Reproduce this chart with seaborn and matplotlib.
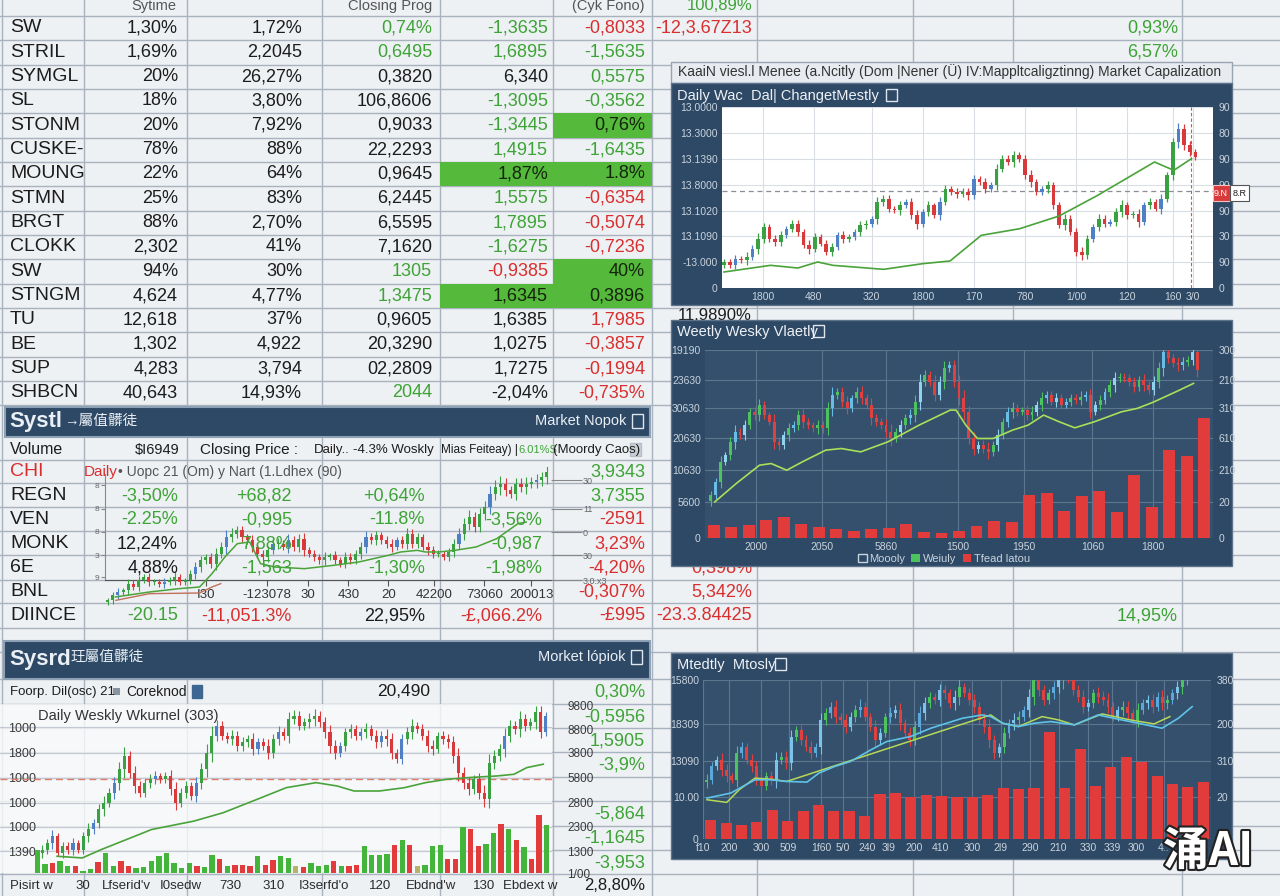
import matplotlib
matplotlib.use("Agg")
import matplotlib.pyplot as plt
from matplotlib.patches import Rectangle
import matplotlib.patheffects as pe
import numpy as np
import pandas as pd
import seaborn as sns

# ---------------- data ----------------
top_header = ["Sytime", "Closing Prog", "(Cyk Fono)", "100,89%"]
top_labels = ["SW", "STRIL", "SYMGL", "SL", "STONM", "CUSKE-", "MOUNG", "STMN",
              "BRGT", "CLOKK", "SW", "STNGM", "TU", "BE", "SUP", "SHBCN"]
top_values = [
    ["1,30%", "1,72%", "0,74%", "-1,3635", "-0,8033"],
    ["1,69%", "2,2045", "0,6495", "1,6895", "-1,5635"],
    ["20%", "26,27%", "0,3820", "6,340", "0,5575"],
    ["18%", "3,80%", "106,8606", "-1,3095", "-0,3562"],
    ["20%", "7,92%", "0,9033", "-1,3445", "0,76%"],
    ["78%", "88%", "22,2293", "1,4915", "-1,6435"],
    ["22%", "64%", "0,9645", "1,87%", "1.8%"],
    ["25%", "83%", "6,2445", "1,5575", "-0,6354"],
    ["88%", "2,70%", "6,5595", "1,7895", "-0,5074"],
    ["2,302", "41%", "7,1620", "-1,6275", "-0,7236"],
    ["94%", "30%", "1305", "-0,9385", "40%"],
    ["4,624", "4,77%", "1,3475", "1,6345", "0,3896"],
    ["12,618", "37%", "0,9605", "1,6385", "1,7985"],
    ["1,302", "4,922", "20,3290", "1,0275", "-0,3857"],
    ["4,283", "3,794", "02,2809", "1,7275", "-0,1994"],
    ["40,643", "14,93%", "2044", "-2,04%", "-0,735%"],
]
# k black, g green, r red, H black on green cell
top_colors = ["kkggr", "kkggg", "kkkkg", "kkkgg", "kkkgH", "kkkgg", "kkkHH", "kkkgr",
              "kkkgr", "kkkgr", "kkgrH", "kkgHH", "kkkkr", "kkkkr", "kkkkr", "kkgkr"]
top_extra_mid = ["-12,3.67Z13", "", ""]
top_extra_right = ["0,93%", "6,57%"]

mid_header = ["Volume", "$I6949", "Closing Price :", "Daily..", "-4.3% Woskly",
              "Mias Feiteay) |", "6.01%S", "(Moordy Caos)"]
mid_labels = ["CHI", "REGN", "VEN", "MONK", "6E", "BNL", "DIINCE"]
mid_values = [
    ["", "", "", "", "3,9343"],
    ["-3,50%", "+68,82", "+0,64%", "", "3,7355"],
    ["-2.25%", "-0,995", "-11.8%", "-3,56%", "-2591"],
    ["12,24%", "7,88%", "", "-0,987", "3,23%"],
    ["4,88%", "-1,563", "-1,30%", "-1,98%", "-4,20%"],
    ["", "", "", "", "-0,307%"],
    ["-20.15", "-11,051.3%", "22,95%", "-£,066.2%", "-£995"],
]
mid_colors = ["kkkkg", "gggkg", "ggggr", "kgkgr", "kgggr", "kkkkr", "grkrr"]
mid_extra = ["", "", "", "", "0,398%", "5,342%", "-23.3.84425"]
mid_extra_right = "14,95%"

bot_header = ["Foorp. Dil(osc) 21", "Coreknod", "20,490"]
bot_right_values = ["0,30%", "-0,5956", "1,5905", "-3,9%", "", "-5,864", "-1,1645", "-3,953", "2,8,80%"]
bot_right_colors = "ggggggggk"

# chart A : right top panel (price units)
a_close = [78, 68, 88, 83, 93, 118, 148, 183, 148, 138,
           158, 178, 193, 168, 128, 118, 153, 133, 108, 123,
           158, 148, 153, 168, 188, 193, 208, 258, 268, 238,
           233, 248, 258, 218, 193, 228, 248, 218, 258, 298,
           288, 283, 288, 278, 328, 318, 298, 308, 358, 388,
           378, 398, 388, 338, 318, 288, 298, 308, 248, 188,
           208, 168, 108, 98, 148, 183, 208, 193, 198, 228,
           248, 218, 223, 198, 248, 258, 238, 268, 338, 438,
           478, 428, 408, 393]
a_wick = [10, 8, 12, 9, 14, 10, 16, 12, 9, 11, 13, 8, 10, 12, 9, 15, 11, 8, 10, 12,
          9, 14, 10, 8, 12, 11, 9, 16, 12, 10, 8, 13, 9, 11, 15, 10, 12, 8, 14, 10,
          9, 12, 11, 13, 10, 8, 12, 9, 15, 11, 10, 14, 9, 12, 16, 10, 8, 13, 11, 9,
          14, 10, 12, 15, 11, 9, 13, 10, 8, 12, 16, 11, 9, 14, 10, 12, 8, 15, 11, 13,
          18, 14, 12, 10]
a_ma_x = [0, 8.2, 13, 16.5, 19.2, 28.1, 35, 39.8, 45.3, 52.1, 59, 65.8, 75.8, 79.2, 82.3]
a_ma_y = [48, 68, 60, 78, 68, 56, 73, 81, 158, 178, 216, 278, 378, 353, 388]
a_yticks = [0, 77, 155, 232, 310, 387, 465, 543]
a_ylabels_l = ["0", "-13.000", "13.1090", "13.1020", "13.8000", "13.1390", "13.3000", "13.0000"]
a_ylabels_r = ["0", "90", "30", "90", "90", "90", "80", "90"]
a_xticks = [6.8, 15.8, 26, 35, 44, 53, 62, 71, 79, 82.5]
a_xlabels = ["1800", "480", "320", "1800", "170", "780", "1/00", "120", "160", "3/0"]
a_level = 291
a_mark = 82.3

# chart B : right middle panel
b_close = [128, 168, 228, 248, 288, 318, 308, 338, 378, 368,
           398, 368, 348, 288, 278, 308, 328, 338, 368, 348,
           338, 328, 338, 328, 388, 428, 438, 408, 388, 418,
           438, 418, 398, 358, 348, 338, 318, 298, 318, 338,
           358, 368, 408, 468, 488, 468, 428, 468, 508, 518,
           468, 418, 378, 298, 268, 278, 268, 258, 278, 308,
           348, 378, 388, 378, 383, 368, 378, 398, 418, 428,
           408, 418, 398, 408, 418, 413, 423, 428, 378, 398,
           413, 438, 458, 478, 483, 478, 468, 453, 473, 458,
           443, 468, 508, 558, 538, 523, 518, 528, 533, 558, 503]
b_wick = [14, 12, 18, 10, 15, 20, 12, 16, 11, 14, 18, 13, 10, 22, 15, 12, 17, 11, 14, 19,
          12, 10, 16, 13, 20, 24, 12, 15, 18, 11, 14, 16, 12, 20, 13, 11, 17, 22, 12, 15,
          13, 18, 20, 24, 14, 12, 19, 16, 22, 12, 15, 20, 24, 16, 18, 12, 14, 20, 13, 17,
          11, 15, 18, 12, 10, 14, 16, 12, 18, 13, 11, 15, 12, 10, 14, 12, 16, 13, 18, 11,
          14, 12, 16, 20, 12, 10, 14, 15, 12, 18, 13, 16, 20, 24, 14, 12, 18, 15, 12, 16, 20]
b_ma_x = [0.8, 5.2, 10, 12.4, 15.6, 18.8, 23.6, 26.8, 30.8, 36.4, 42.8, 49.2, 50.4, 52.4,
          54.8, 58, 62, 65.2, 68.4, 71.6, 74.8, 78.8, 84.4, 87.6, 90.8, 95.6, 99.2]
b_ma_y = [108, 163, 218, 223, 203, 228, 263, 268, 258, 288, 338, 383, 383, 338,
          298, 298, 323, 338, 368, 348, 330, 348, 378, 388, 406, 438, 463]
b_volume = [40, 33, 40, 55, 63, 42, 33, 28, 20, 27, 30, 42, 18, 15, 20, 35, 50, 48,
            128, 136, 82, 125, 140, 77, 188, 93, 265, 245, 360]
b_yticks = [0, 108, 203, 298, 388, 473, 563]
b_ylabels_l = ["0", "5600", "10630", "20630", "30630", "23630", "19190"]
b_ylabels_r = ["0", "20", "210", "610", "310", "210", "300"]
b_xticks = [9.2, 22.8, 36, 50.8, 64.4, 78.4, 90.8]
b_xlabels = ["2000", "2050", "5860", "1500", "1950", "1060", "1800"]
b_legend = ["Moooly", "Weiuly", "Tfead latou"]

# chart C : right bottom panel
c_close = [178, 218, 238, 208, 188, 178, 258, 278, 238, 218,
           178, 158, 188, 178, 238, 248, 228, 308, 328, 298,
           278, 258, 278, 358, 378, 398, 368, 358, 338, 368,
           388, 398, 368, 338, 298, 318, 368, 378, 388, 348,
           318, 298, 338, 378, 408, 428, 418, 448, 438, 408,
           428, 458, 438, 418, 398, 358, 338, 298, 258, 278,
           318, 348, 358, 368, 388, 428, 488, 448, 418, 438,
           458, 478, 498, 488, 448, 428, 398, 408, 438, 428,
           418, 398, 368, 388, 398, 378, 358, 388, 408, 418,
           398, 428, 408, 418, 438, 458, 488, 498]
c_wick = [18, 14, 12, 20, 16, 10, 22, 14, 12, 18, 15, 20, 12, 16, 24, 14, 18, 20, 12, 16,
          14, 18, 12, 22, 16, 14, 20, 12, 18, 14, 16, 22, 14, 12, 20, 16, 12, 18, 14, 20,
          12, 18, 16, 22, 20, 14, 12, 18, 16, 14, 20, 24, 12, 16, 18, 14, 20, 24, 16, 12,
          18, 14, 20, 16, 12, 22, 26, 18, 14, 12, 16, 20, 28, 18, 14, 16, 20, 12, 14, 18,
          16, 20, 14, 12, 18, 16, 14, 20, 12, 16, 18, 14, 20, 16, 12, 18, 22, 26]
c_ma_x = [0, 4.8, 9.7, 12.9, 16.1, 20.2, 22.6, 25.8, 29, 33.1, 36.3, 41.1, 45.2, 48.4,
          51.6, 55.6, 57.3, 59.7, 62.9, 66.1, 69.4, 74.2, 79, 83.1, 87.1, 91.9, 95.2, 98]
c_ma_y = [123, 138, 178, 178, 173, 171, 198, 218, 233, 268, 293, 308, 333, 348,
          363, 373, 368, 348, 338, 348, 353, 343, 373, 360, 348, 333, 363, 398]
c_ma2_x = [0, 4, 6.5, 9.7, 12.9, 16.1, 57.3, 59.7, 62.9, 67.7, 71, 74.2, 79.8, 85.5, 90.3, 93.5]
c_ma2_y = [118, 110, 148, 183, 180, 173, 373, 348, 338, 368, 358, 343, 376, 358, 346, 368]
c_volume = [58, 48, 43, 50, 88, 53, 83, 101, 83, 85, 70, 135, 138, 125, 133, 128, 125,
            125, 133, 153, 151, 153, 323, 153, 270, 160, 215, 248, 231, 188, 166, 155, 170]
c_yticks = [0, 125, 233, 346, 478]
c_ylabels_l = ["0", "10.00", "13090", "18309", "15800"]
c_ylabels_r = ["", "20", "310", "200", "380"]
c_xticks = [-0.8, 4.4, 10.9, 16.5, 23, 27.4, 32.3, 36.7, 41.9, 47.2, 53.6, 59.3, 65.3, 71, 77, 81.9, 86.7, 92.3]
c_xlabels = ["f10", "200", "300", "509", "1f60", "5/0", "240", "3l9", "200", "410",
             "300", "2l9", "290", "210", "330", "339", "300", "4.."]

# chart D : bottom left
d_close = [70, 90, 110, 60, 80, 70, 90, 70, 110, 130,
           150, 190, 210, 240, 270, 310, 350, 300, 260, 240,
           270, 280, 290, 280, 290, 250, 210, 240, 260, 230,
           270, 310, 360, 410, 440, 410, 400, 410, 380, 390,
           400, 370, 390, 380, 360, 400, 420, 410, 460, 470,
           440, 450, 460, 470, 450, 420, 380, 360, 380, 420,
           430, 410, 420, 430, 410, 390, 410, 400, 360, 340,
           400, 420, 440, 430, 410, 380, 370, 410, 400, 390,
           350, 300, 270, 250, 280, 240, 220, 330, 350, 370,
           410, 440, 430, 460, 440, 450, 480, 420, 470]
d_wick = [15, 12, 18, 10, 14, 12, 16, 10, 14, 18, 12, 16, 20, 14, 18, 22, 26, 16, 20, 14,
          12, 16, 14, 10, 12, 18, 22, 14, 16, 12, 18, 20, 24, 28, 16, 14, 12, 18, 14, 16,
          12, 18, 14, 12, 20, 16, 18, 14, 22, 16, 14, 12, 18, 20, 14, 16, 22, 18, 12, 14,
          16, 12, 14, 18, 12, 16, 14, 20, 18, 12, 14, 16, 20, 12, 14, 18, 16, 12, 14, 16,
          20, 24, 18, 16, 14, 20, 24, 26, 18, 16, 22, 18, 14, 24, 16, 14, 20, 18, 12]
d_ma_x = [2.9, 7.8, 11.5, 16.4, 21.3, 26.2, 29.5, 35.2, 41.8, 47.5, 53.3, 57.4, 60.7,
          65.6, 70.5, 74.6, 78.7, 82.8, 88.5, 91.8, 94.3, 97.5]
d_ma_y = [50, 45, 70, 100, 130, 145, 155, 180, 220, 255, 270, 260, 245,
          245, 255, 270, 280, 285, 290, 295, 315, 325]
d_volume = [70, 27, 30, 35, 20, 22, 5, 12, 34, 60,
            20, 35, 20, 15, 17, 35, 50, 60, 30, 15,
            30, 22, 17, 55, 42, 20, 25, 25, 22, 50,
            25, 40, 52, 45, 22, 17, 30, 22, 25, 35,
            22, 22, 25, 82, 55, 55, 58, 85, 100, 85,
            20, 25, 82, 85, 42, 42, 138, 132, 80, 88,
            120, 145, 132, 100, 78, 42, 172, 142]
d_volume_side = ("ggrggrggrg" "grrggggggg" "grggrgrrrg" "rrggyrgggr"
                 "grrggggrgr" "ygggrrgrrg" "grgrgrrg")
d_level = 280
d_yticks_l = [65, 138, 210, 285, 360, 435]
d_ylabels_l = ["1390", "1000", "1000", "1000", "1800", "1000"]
d_yticks_r = [0, 65, 138, 210, 285, 360, 430, 500]
d_ylabels_r = ["1/00", "1300", "2300", "2800", "5800", "3800", "8800", "9800"]
d_xticks = [-2, 8, 16.4, 27, 36.7, 45, 54.9, 65.8, 75.6, 86, 95]
d_xlabels = ["Pisirt w", "30", "Lfserid'v", "I0sedw", "730", "310", "I3serfd'o",
             "120", "Ebdnd'w", "130", "Ebdext w"]

# chart E : inset in the middle table
e_close = [20, 35, 45, 50, 70, 60, 80, 90, 75, 75,
           70, 75, 80, 90, 75, 80, 100, 120, 140, 150,
           130, 160, 180, 210, 220, 230, 210, 200, 180, 160,
           150, 170, 190, 190, 180, 200, 180, 205, 170, 160,
           150, 140, 150, 155, 140, 130, 150, 140, 160, 180,
           210, 200, 215, 200, 190, 180, 200, 190, 220, 190,
           210, 180, 170, 160, 160, 150, 165, 190, 220, 250,
           270, 240, 280, 300, 340, 360, 370, 350, 340, 370,
           360, 370, 375, 380, 390, 405]
e_wick = [8, 10, 12, 8, 14, 10, 12, 9, 11, 8, 10, 12, 9, 14, 10, 8, 12, 16, 14, 10,
          12, 18, 14, 20, 16, 12, 14, 10, 16, 12, 10, 14, 12, 16, 10, 18, 12, 14, 16, 10,
          12, 10, 14, 8, 12, 10, 14, 12, 10, 16, 18, 12, 14, 10, 12, 14, 10, 12, 16, 14,
          12, 10, 14, 12, 10, 8, 12, 14, 16, 18, 20, 14, 16, 18, 22, 20, 24, 16, 14, 18,
          16, 20, 14, 18, 16, 20]
e_ma_x = [1.5, 8.1, 13.8, 17.8, 20.2, 22.7, 25.1, 27.5, 29.6, 32.4, 38.1, 43.7, 48.6,
          54.3, 56.7, 59.9, 61.5, 64, 67.2, 71.3, 75.3, 79.4, 81]
e_ma_y = [30, 45, 55, 60, 100, 150, 190, 195, 130, 120, 115, 125, 135,
          155, 165, 170, 165, 165, 170, 180, 205, 250, 255]
e_ma2_x = [1.6, 8.1, 17.8, 20.2, 21.9]
e_ma2_y = [20, 40, 42, 60, 70]
e_base = 80
e_yticks = [90, 155, 225, 295, 365]
e_ylabels_l = ["9", "3", "8", "8", "8"]
e_ylabels_r = ["3,0.x3", "30", "0", "11", "30"]
e_yticks_r = [80, 155, 225, 295, 380]
e_xticks = [19.1, 30.8, 38.7, 46.6, 54.3, 63.2, 72.9, 82]
e_xlabels = ["I30", "-123078", "30", "430", "20", "42200", "73060", "200013"]

# ---------------- styling ----------------
W, H = 1280, 896
GREEN = "#3ea336"
RED = "#d92e2e"
INK = "#1c1c1c"
GRID = "#a9b3bf"
NAVY = "#2e4965"
PLOT_NAVY = "#34506c"
LIGHT = "#c9d3dd"
TXT = {"k": INK, "g": GREEN, "r": RED, "H": "#14240c"}

plt.rcParams["font.family"] = ["Liberation Sans", "Noto Sans CJK SC", "DejaVu Sans"]


def frac(x0, y0, x1, y1):
    return [x0 / W, 1 - y1 / H, (x1 - x0) / W, (y1 - y0) / H]


def candles(ax, closes, wicks, open0, ups, down, width=0.6, lw=0.8):
    closes = np.asarray(closes, float)
    wicks = np.asarray(wicks, float)
    opens = np.r_[open0, closes[:-1]]
    n = min(len(closes), len(wicks))
    closes, opens, wicks = closes[:n], opens[:n], wicks[:n]
    idx = np.arange(n)
    lo = np.minimum(opens, closes)
    hi = np.maximum(opens, closes)
    cols = [down if c < o else ups[i % len(ups)] for i, (o, c) in enumerate(zip(opens, closes))]
    ax.vlines(idx, lo - wicks, hi + wicks, colors=cols, lw=lw, zorder=3)
    ax.bar(idx, np.maximum(hi - lo, 3), bottom=lo, width=width, color=cols, zorder=3)


def ma(ax, xs, ys, color, lw=1.3):
    sns.lineplot(x=xs, y=ys, ax=ax, color=color, lw=lw, estimator=None, sort=False, zorder=4)
    ax.set_xlabel("")
    ax.set_ylabel("")


def clean(ax):
    for s in ax.spines.values():
        s.set_visible(False)
    ax.tick_params(length=0)


fig = plt.figure(figsize=(12.8, 8.96), dpi=100)
fig.patch.set_facecolor("#eef1f4")

bg = fig.add_axes([0, 0, 1, 1])
bg.set_xlim(0, W)
bg.set_ylim(H, 0)
bg.axis("off")

row_lines = [16 + 24.33 * i for i in range(17)] + [460, 483, 507, 531, 555, 580, 603, 628, 652,
                                                  679, 704, 728, 752, 777, 801, 826, 850, 874]
for y in row_lines:
    bg.plot([0, W], [y, y], color=GRID, lw=1, zorder=1)
for x in [2, 84, 187, 322, 440, 553, 652, 757, 913, 1013, 1182]:
    bg.plot([x, x], [0, H], color=GRID, lw=1, zorder=1)

# green highlighted cells
col_edges = [84, 187, 322, 440, 553, 652]
for i, code in enumerate(top_colors):
    for j, c in enumerate(code):
        if c == "H":
            bg.add_patch(Rectangle((col_edges[j], 16 + 24.33 * i), col_edges[j + 1] - col_edges[j], 24.33,
                                   facecolor="#55b93c", edgecolor="none", zorder=2))

# texts partly hidden under the right panels
mid_y = [472, 496, 520, 544, 568, 592, 616]
for v, y in zip(mid_extra, mid_y):
    bg.text(752, y, v, color=RED, fontsize=13, ha="right", va="center", zorder=2)
bg.text(752, 315, "11,9890%", color=INK, fontsize=12, ha="right", va="center", zorder=2)

# panels
for (x0, y0, x1, y1) in [(5, 407, 650, 437), (4, 641, 650, 679)]:
    bg.add_patch(Rectangle((x0, y0), x1 - x0, y1 - y0, facecolor=NAVY, edgecolor="#8ea2b6", lw=1.5, zorder=3))
bg.add_patch(Rectangle((671, 62), 561, 21, facecolor="#e8ecf0", edgecolor="#98a4b2", lw=1, zorder=3))
for (x0, y0, x1, y1) in [(671, 83, 1232, 305), (671, 320, 1232, 566), (671, 653, 1232, 859)]:
    bg.add_patch(Rectangle((x0, y0), x1 - x0, y1 - y0, facecolor=NAVY, edgecolor="#5d738a", lw=1, zorder=3))

# ---------------- chart A ----------------
axA = fig.add_axes(frac(722, 107, 1213, 288))
axA.set_facecolor("white")
candles(axA, a_close, a_wick, 70, ["#3aa142", "#3aa142", "#4f7fc4"], "#d8393a", width=0.65, lw=0.9)
ma(axA, a_ma_x, a_ma_y, "#4aa33a", 1.2)
axA.axhline(a_level, color="#8a8f96", lw=0.9, ls=(0, (4, 3)), zorder=2)
axA.axvline(a_mark, color="#d9534f", lw=0.8, ls=(0, (3, 2)), zorder=2)
axA.set_xlim(-0.35, 86.1)
axA.set_ylim(0, 543)
axA.set_yticks(a_yticks, a_ylabels_l)
axA.set_xticks(a_xticks, a_xlabels)
axA.grid(True, color="#d9dee4", lw=0.8)
axA.set_axisbelow(True)
clean(axA)
axA.tick_params(labelsize=7.5, labelcolor=LIGHT, pad=3)
axAr = axA.twinx()
axAr.set_ylim(0, 543)
axAr.set_yticks(a_yticks, a_ylabels_r)
clean(axAr)
axAr.tick_params(labelsize=7.5, labelcolor=LIGHT, pad=4)

# ---------------- chart B ----------------
axB = fig.add_axes(frac(705, 350, 1213, 538))
axB.set_facecolor(PLOT_NAVY)
candles(axB, b_close, b_wick, 110, ["#4cc35e", "#67bde6", "#4cc35e", "#8fd3ef"], "#e0413f", width=0.6)
ma(axB, b_ma_x, b_ma_y, "#a9e05a", 1.2)
axB.set_xlim(-1.2, 103.2)
axB.set_ylim(0, 563)
axB.set_yticks(b_yticks, b_ylabels_l)
axB.set_xticks(b_xticks, b_xlabels)
axB.grid(True, color="#5c7690", lw=0.8)
axB.set_axisbelow(True)
clean(axB)
axB.tick_params(labelsize=7.5, labelcolor=LIGHT, pad=3)
axBr = axB.twinx()
axBr.set_ylim(0, 563)
axBr.set_yticks(b_yticks, b_ylabels_r)
clean(axBr)
axBr.tick_params(labelsize=7.5, labelcolor=LIGHT, pad=4)
axBv = fig.add_axes(frac(705, 350, 1213, 538))
sns.barplot(x=list(range(len(b_volume))), y=b_volume, color="#e23b3b", saturation=1,
            width=0.68, errorbar=None, ax=axBv)
axBv.set_ylim(0, 563)
axBv.axis("off")
handles = [Rectangle((0, 0), 1, 1, facecolor="none", edgecolor=LIGHT),
           Rectangle((0, 0), 1, 1, facecolor="#4cc35e"),
           Rectangle((0, 0), 1, 1, facecolor="#e23b3b")]
axB.legend(handles, b_legend, loc="upper center", bbox_to_anchor=(0.47, -0.085), ncol=3,
           frameon=False, fontsize=8, labelcolor=LIGHT, handlelength=0.8, handleheight=0.8,
           columnspacing=0.6, handletextpad=0.2, borderpad=0, borderaxespad=0)

# ---------------- chart C ----------------
axC = fig.add_axes(frac(703, 680, 1211, 839))
axC.set_facecolor(PLOT_NAVY)
candles(axC, c_close, c_wick, 170, ["#4cc35e", "#5aa8dc", "#7cc3ea"], "#e0413f", width=0.6)
axC.set_xlim(-0.8, 101.8)
axC.set_ylim(0, 478)
axC.set_yticks(c_yticks, c_ylabels_l)
axC.set_xticks(c_xticks, c_xlabels)
axC.grid(True, color="#5c7690", lw=0.8)
axC.set_axisbelow(True)
clean(axC)
axC.tick_params(labelsize=7.5, labelcolor=LIGHT, pad=3)
axCr = axC.twinx()
axCr.set_ylim(0, 478)
axCr.set_yticks(c_yticks, c_ylabels_r)
clean(axCr)
axCr.tick_params(labelsize=7.5, labelcolor=LIGHT, pad=4)
axCv = fig.add_axes(frac(703, 680, 1211, 839))
sns.barplot(x=list(range(len(c_volume))), y=c_volume, color="#e23b3b", saturation=1,
            width=0.72, errorbar=None, ax=axCv)
axCv.set_ylim(0, 478)
axCv.axis("off")
axCm = fig.add_axes(frac(703, 680, 1211, 839))
axCm.patch.set_visible(False)
ma(axCm, c_ma2_x, c_ma2_y, "#b6d957", 1.1)
ma(axCm, c_ma_x, c_ma_y, "#5fc3e8", 1.2)
axCm.set_xlim(-0.8, 101.8)
axCm.set_ylim(0, 478)
axCm.axis("off")

# ---------------- chart D ----------------
axD = fig.add_axes(frac(0, 704, 552, 873))
axD.set_facecolor((0.98, 0.985, 0.99, 0.8))
candles(axD, d_close, d_wick, 60, ["#3aa142", "#3aa142", "#4f7fc4", "#3aa142"], "#d8393a", width=0.6)
ma(axD, d_ma_x, d_ma_y, "#4aa33a", 1.2)
axD.axhline(d_level, color="#e07b6a", lw=1, ls=(0, (5, 3)), zorder=2)
axD.set_xlim(-8.2, 99.2)
axD.set_ylim(0, 505)
axD.set_yticks(d_yticks_l, d_ylabels_l)
axD.set_xticks(d_xticks, d_xlabels)
axD.grid(True, axis="y", color="#c3cad3", lw=0.9)
axD.set_axisbelow(True)
clean(axD)
axD.tick_params(axis="y", labelsize=9, labelcolor="#3a3a3a", pad=-26)
axD.tick_params(axis="x", labelsize=9.5, labelcolor="#2a2a2a", pad=5)
axDr = axD.twinx()
axDr.set_ylim(0, 505)
axDr.set_yticks(d_yticks_r, d_ylabels_r)
clean(axDr)
axDr.tick_params(labelsize=8.5, labelcolor="#3a3a3a", pad=11)
axDv = fig.add_axes(frac(0, 704, 552, 873))
vol_df = pd.DataFrame({"i": range(len(d_volume)), "v": d_volume, "side": list(d_volume_side)})
sns.barplot(data=vol_df, x="i", y="v", hue="side", dodge=False, legend=False,
            palette={"g": "#43b53a", "r": "#e23b3b", "y": "#b7b26a"}, saturation=1,
            width=0.7, errorbar=None, ax=axDv)
axDv.set_xlim(-4.9, 67.7)
axDv.set_ylim(0, 505)
axDv.axis("off")

# ---------------- chart E ----------------
axE = fig.add_axes(frac(105, 467, 551, 607))
axE.patch.set_visible(False)
candles(axE, e_close, e_wick, 15, ["#3aa142", "#3aa142", "#4f7fc4"], "#d8393a", width=0.6, lw=0.8)
ma(axE, e_ma_x, e_ma_y, "#4aa33a", 1.1)
ma(axE, e_ma2_x, e_ma2_y, "#c0705a", 1.0)
axE.set_xlim(-0.5, 85.8)
axE.set_ylim(0, 420)
for s in ["top", "right"]:
    axE.spines[s].set_visible(False)
axE.spines["bottom"].set_position(("data", e_base))
axE.spines["bottom"].set_color("#555")
axE.spines["left"].set_color("#888")
axE.spines["left"].set_bounds(e_base, 400)
axE.set_yticks(e_yticks, e_ylabels_l)
axE.set_xticks(e_xticks, e_xlabels)
axE.tick_params(axis="y", labelsize=6, labelcolor="#666", length=3, color="#888", pad=1)
axE.tick_params(axis="x", labelsize=9.5, labelcolor="#333", length=4, color="#555", pad=2)
axEr = axE.twinx()
axEr.set_ylim(0, 420)
axEr.set_yticks(e_yticks_r, e_ylabels_r)
for s in axEr.spines.values():
    s.set_visible(False)
axEr.tick_params(labelsize=6.5, labelcolor="#666", length=22, color="#888", width=0.8, pad=1)

# ---------------- overlay texts ----------------
ov = fig.add_axes([0, 0, 1, 1], zorder=10)
ov.set_xlim(0, W)
ov.set_ylim(H, 0)
ov.axis("off")
ov.patch.set_visible(False)


def put(x, y, s, color=INK, size=13, ha="left", **kw):
    ov.text(x, y, s, color=color, fontsize=size, ha=ha, va="center", **kw)


def icon(x, y, w=11, h=12, fc="none", ec="#dfe6ee"):
    ov.add_patch(Rectangle((x, y), w, h, facecolor=fc, edgecolor=ec, lw=1))


# top table
put(154, 6, top_header[0], "#555", 10.5, "center")
put(432, 6, top_header[1], "#555", 10.5, "right")
put(645, 6, top_header[2], "#555", 10.5, "right")
put(752, 6, top_header[3], GREEN, 12, "right")
top_x = [178, 302, 432, 548, 645]
for i, (lab, vals, code) in enumerate(zip(top_labels, top_values, top_colors)):
    y = 28 + 24.33 * i
    put(10, y, lab, INK, 14)
    for j, (v, c) in enumerate(zip(vals, code)):
        put(top_x[j], y, v, TXT[c], 13, "right")
for i, v in enumerate(top_extra_mid):
    put(752, 28 + 24.33 * i, v, RED, 13, "right")
for i, v in enumerate(top_extra_right):
    put(1178, 28 + 24.33 * i, v, GREEN, 13, "right")

# middle panel header bar
put(9, 422, "Systl", "#e9eff5", 16, weight="bold")
put(64, 421, "→屬值髒徒", "#e9eff5", 10.5)
put(626, 421, "Market Nopok", "#e9eff5", 10.5, "right")
icon(632, 414, 11, 14)
# middle header row
put(10, 450, mid_header[0], INK, 11.5)
put(180, 450, mid_header[1], INK, 10.5, "right")
put(298, 450, mid_header[2], INK, 11, "right")
put(314, 450, mid_header[3], INK, 9.5)
put(434, 450, mid_header[4], INK, 9.5, "right")
put(441, 450, mid_header[5], INK, 8.5)
put(518, 450, mid_header[6], GREEN, 8)
put(553, 450, mid_header[7], INK, 9.5)
icon(630, 443, 11, 13, fc="#c8ced6", ec="#b7bec8")
put(84, 472, "Daily", RED, 11)
put(118, 472, "• Uopc 21 (Om) y Nart (1.Ldhex (90)", "#555", 10)
mid_x = [178, 292, 425, 542, 645]
for lab, vals, code, y, k in zip(mid_labels, mid_values, mid_colors, mid_y, range(7)):
    put(10, y, lab, RED if k == 0 else INK, 14)
    for j, (v, c) in enumerate(zip(vals, code)):
        put(mid_x[j], y, v, TXT[c], 13, "right")
put(1178, 616, mid_extra_right, GREEN, 13, "right")

# bottom panel
put(9, 659, "Sysrd", "#e9eff5", 16, weight="bold")
put(70, 657, "玨屬值髒徒", "#e9eff5", 10.5)
put(625, 657, "Morket lópiok", "#e9eff5", 10.5, "right")
icon(631, 650, 11, 14)
put(10, 692, bot_header[0], INK, 9.5)
ov.add_patch(Rectangle((113, 688), 7, 7, facecolor="#8a93a0", edgecolor="none"))
put(126, 692, bot_header[1], INK, 10)
icon(192, 685, 10, 13, fc="#3d6690", ec="#3d6690")
put(430, 692, bot_header[2], INK, 12.5, "right")
for v, c, y in zip(bot_right_values, bot_right_colors, [692, 717, 741, 765, 790, 814, 838, 863, 885]):
    put(645, y, v, TXT[c], 12 if c == "k" else 13, "right")
put(38, 716, "Daily Weskly Wkurnel (303)", "#333", 10.5)

# right panels
put(678, 72, "KaaiN viesl.l Menee (a.Ncitly (Dom |Nener (Ü) IV:Mappltcaligztinng) Market Capalization",
    "#333", 10)
put(677, 96, "Daily Wac  Dal| ChangetMestly", "#eef2f6", 10.5)
icon(886, 89, 11, 12)
ov.add_patch(Rectangle((1213, 185), 17, 16, facecolor="#d8393a", edgecolor="#f2c0c0", lw=0.8))
put(1221, 193, "9.N", "white", 6.5, "center")
ov.add_patch(Rectangle((1230, 185), 19, 16, facecolor="white", edgecolor="#555", lw=0.8))
put(1240, 193, "8.R", INK, 6.5, "center")
put(677, 332, "Weetly Wesky Vlaetly", "#eef2f6", 10.5)
icon(813, 325, 11, 12)
put(677, 665, "Mtedtly  Mtosly", "#eef2f6", 10.5)
icon(775, 658, 11, 12)

ov.text(1208, 852, "涌AI", color="white", fontsize=33, ha="center", va="center",
        family=["Noto Sans CJK SC", "DejaVu Sans"], weight="bold",
        path_effects=[pe.withStroke(linewidth=3, foreground="#222")])

fig.savefig("out.png", dpi=100, facecolor=fig.get_facecolor())
